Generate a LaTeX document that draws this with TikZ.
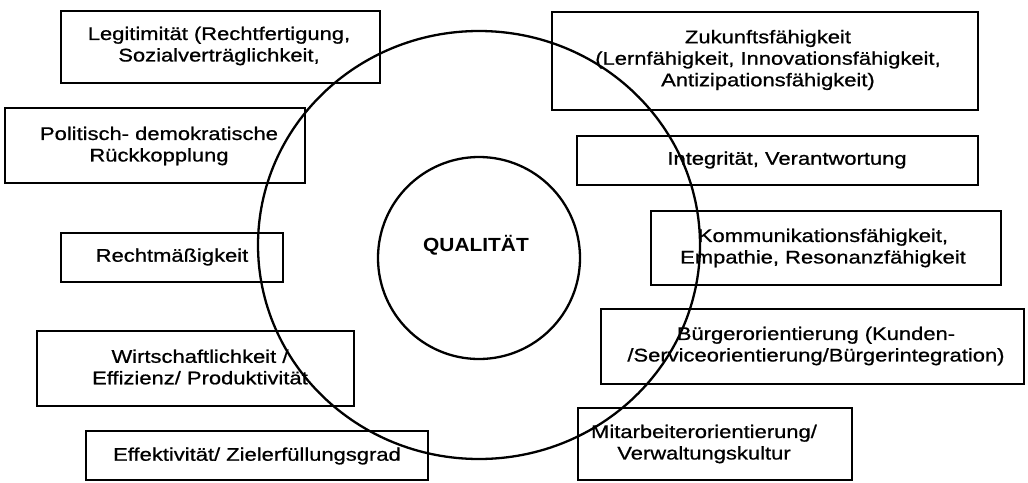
\documentclass[tikz,border=0pt]{standalone}
\usepackage{fontspec}
\setmainfont{Liberation Sans}[FakeStretch=1.2,FakeBold=0.8]
\newfontfamily\corefont{Liberation Sans}[FakeStretch=1.1]
\begin{document}
\begin{tikzpicture}[x=1pt,y=-1pt,
  box/.style={draw=black,line width=2pt,rectangle,inner sep=0pt},
  txt/.style={align=center,inner sep=0pt,font=\fontsize{18.3pt}{21.5pt}\selectfont},
  ring/.style={draw=black,line width=2.3pt}]
\useasboundingbox[fill=white] (0,0) rectangle (1028,482);

% left column of criteria
\node[box,minimum width=319pt,minimum height=72pt] (legit) at (220.5,47) {};
\node[txt] (legit-t) at (219,46) {Legitimität (Rechtfertigung,\\Sozialverträglichkeit,};

\node[box,minimum width=300pt,minimum height=75pt] (polit) at (155,145.5) {};
\node[txt] (polit-t) at (159,146) {Politisch- demokratische\\Rückkopplung};

\node[box,minimum width=222pt,minimum height=49pt] (recht) at (172,257.5) {};
\node[txt] (recht-t) at (172,257) {Rechtmäßigkeit};

\node[box,minimum width=317pt,minimum height=75pt] (wirt) at (195.5,368.5) {};
\node[txt] (wirt-t) at (200,367) {Wirtschaftlichkeit /\\Effizienz/ Produktivität};

\node[box,minimum width=342pt,minimum height=49pt] (effekt) at (257,455.5) {};
\node[txt] (effekt-t) at (257,456) {Effektivität/ Zielerfüllungsgrad};

% right column of criteria
\node[box,minimum width=426pt,minimum height=98pt] (zukunft) at (765,61) {};
\node[txt] (zukunft-t) at (768,60) {Zukunftsfähigkeit\\(Lernfähigkeit, Innovationsfähigkeit,\\Antizipationsfähigkeit)};

\node[box,minimum width=401pt,minimum height=49pt] (integr) at (777.5,160.5) {};
\node[txt] (integr-t) at (787,160) {Integrität, Verantwortung};

\node[box,minimum width=350pt,minimum height=74pt] (kommu) at (826,248) {};
\node[txt] (kommu-t) at (823,248) {Kommunikationsfähigkeit,\\Empathie, Resonanzfähigkeit};

\node[box,minimum width=423pt,minimum height=75pt] (buerger) at (812.5,346.5) {};
\node[txt] (buerger-t) at (816,346) {Bürgerorientierung (Kunden-\\/Serviceorientierung/Bürgerintegration)};

\node[box,minimum width=274pt,minimum height=72pt] (mitarb) at (715,444) {};
\node[txt] (mitarb-t) at (704,444) {Mitarbeiterorientierung/\\Verwaltungskultur};

% core and outer ring
\node[ring,circle,minimum size=202pt,inner sep=0pt] (kern) at (479,258) {};
\node[font=\corefont\fontsize{19pt}{22pt}\selectfont\bfseries,inner sep=0pt] (qual) at (476,245) {QUALITÄT};
\draw[ring] (479,245) ellipse [x radius=221, y radius=214];
\end{tikzpicture}
\end{document}
